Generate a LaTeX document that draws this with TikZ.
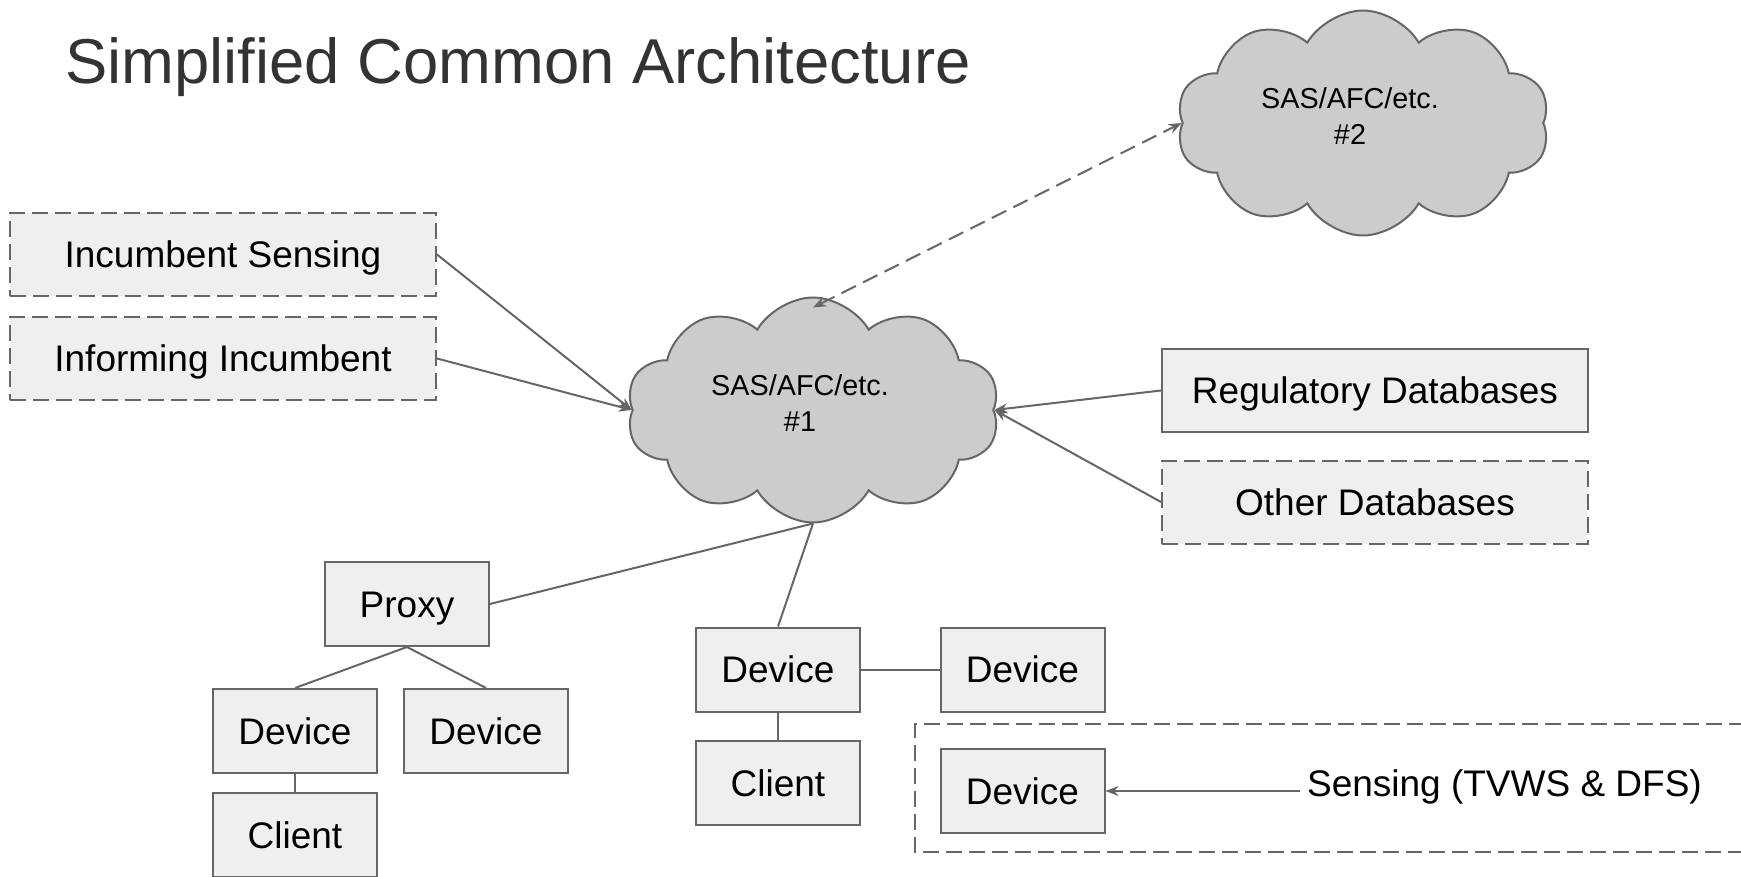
\documentclass[tikz,border=0pt]{standalone}
\usepackage{fontspec}
\setmainfont{Liberation Sans}
\usetikzlibrary{shapes.symbols,arrows.meta}
\definecolor{boxfill}{HTML}{EFEFEF}
\definecolor{edgegray}{HTML}{666666}
\definecolor{cloudfill}{HTML}{CCCCCC}
\definecolor{titlegray}{HTML}{333333}

\begin{document}
\begin{tikzpicture}[x=0.5pt,y=-0.5pt,
	boxstyle/.style={rectangle,draw=edgegray,fill=boxfill,line width=1pt,
		minimum width=82pt,minimum height=42pt,inner sep=0pt,
		text height=13.2pt,text depth=0pt,
		font=\fontsize{18.5}{22}\selectfont},
	widebox/.style={boxstyle,minimum width=213pt,minimum height=41.5pt},
	dashbox/.style={widebox,dash pattern=on 8pt off 3.5pt},
	cloudstyle/.style={cloud,cloud puffs=10,cloud puff arc=120,aspect=1.66,
		draw=edgegray,fill=cloudfill,line width=1pt,
		minimum width=186.5pt,minimum height=112.5pt,inner sep=0pt},
	cloudtext/.style={font=\fontsize{14.4}{18}\selectfont,align=center,xshift=-6.5pt,yshift=3.5pt},
	link/.style={draw=edgegray,line width=1pt},
	arrowlink/.style={link,-{Stealth[length=6.5pt,width=5pt]}}]
	\useasboundingbox (0,0) rectangle (1741,877);

	\node[anchor=base west,text=titlegray,font=\fontsize{31.7}{36}\selectfont] (title) at (58,84) {Simplified Common Architecture};

	\node[cloudstyle,label={[cloudtext]center:SAS/AFC/etc.\\\#1}] (sas1) at (813,410) {};
	\node[cloudstyle,label={[cloudtext]center:SAS/AFC/etc.\\\#2}] (sas2) at (1363,123) {};

	\node[dashbox] (insense) at (223,254.5) {Incumbent Sensing};
	\node[dashbox] (inform) at (223,358.5) {Informing Incumbent};
	\node[widebox] (regdb) at (1375,390.5) {Regulatory Databases};
	\node[dashbox] (otherdb) at (1375,502) {Other Databases};

	\node[boxstyle] (proxy) at (407,604) {Proxy};
	\node[boxstyle] (devl) at (295,731) {Device};
	\node[boxstyle] (devr) at (486,731) {Device};
	\node[boxstyle] (clientl) at (295,835) {Client};

	\node[boxstyle] (devm) at (778,669.5) {Device};
	\node[boxstyle] (devmr) at (1022.5,669.5) {Device};
	\node[boxstyle] (clientm) at (778,783) {Client};

	\draw[link,dash pattern=on 8pt off 3.5pt] (1745,724) -- (915,724) -- (915,852) -- (1745,852);
	\node[boxstyle] (devs) at (1022.5,791) {Device};
	\node[anchor=west,text height=13.2pt,text depth=0pt,font=\fontsize{18.5}{22}\selectfont] (sensing) at (1300,783) {Sensing (TVWS \& DFS)};

	\draw[arrowlink] (insense.east) -- (sas1.west);
	\draw[arrowlink] (inform.east) -- (sas1.west);
	\draw[arrowlink] (regdb.west) -- (sas1.east);
	\draw[arrowlink] (otherdb.west) -- (sas1.east);
	\draw[link,dash pattern=on 8pt off 4pt,{Stealth[length=6.5pt,width=5pt]}-{Stealth[length=6.5pt,width=5pt]}] ([yshift=-5.5pt]sas1.north) -- (sas2.west);

	\draw[link] (proxy.east) -- (sas1.south);
	\draw[link] (devm.north) -- (sas1.south);
	\draw[link] (proxy.south) -- (devl.north) (proxy.south) -- (devr.north);
	\draw[link] (devl.south) -- (clientl.north);
	\draw[link] (devm.east) -- (devmr.west);
	\draw[link] (devm.south) -- (clientm.north);
	\draw[arrowlink] (sensing.west |- devs.east) -- (devs.east);
\end{tikzpicture}
\end{document}
